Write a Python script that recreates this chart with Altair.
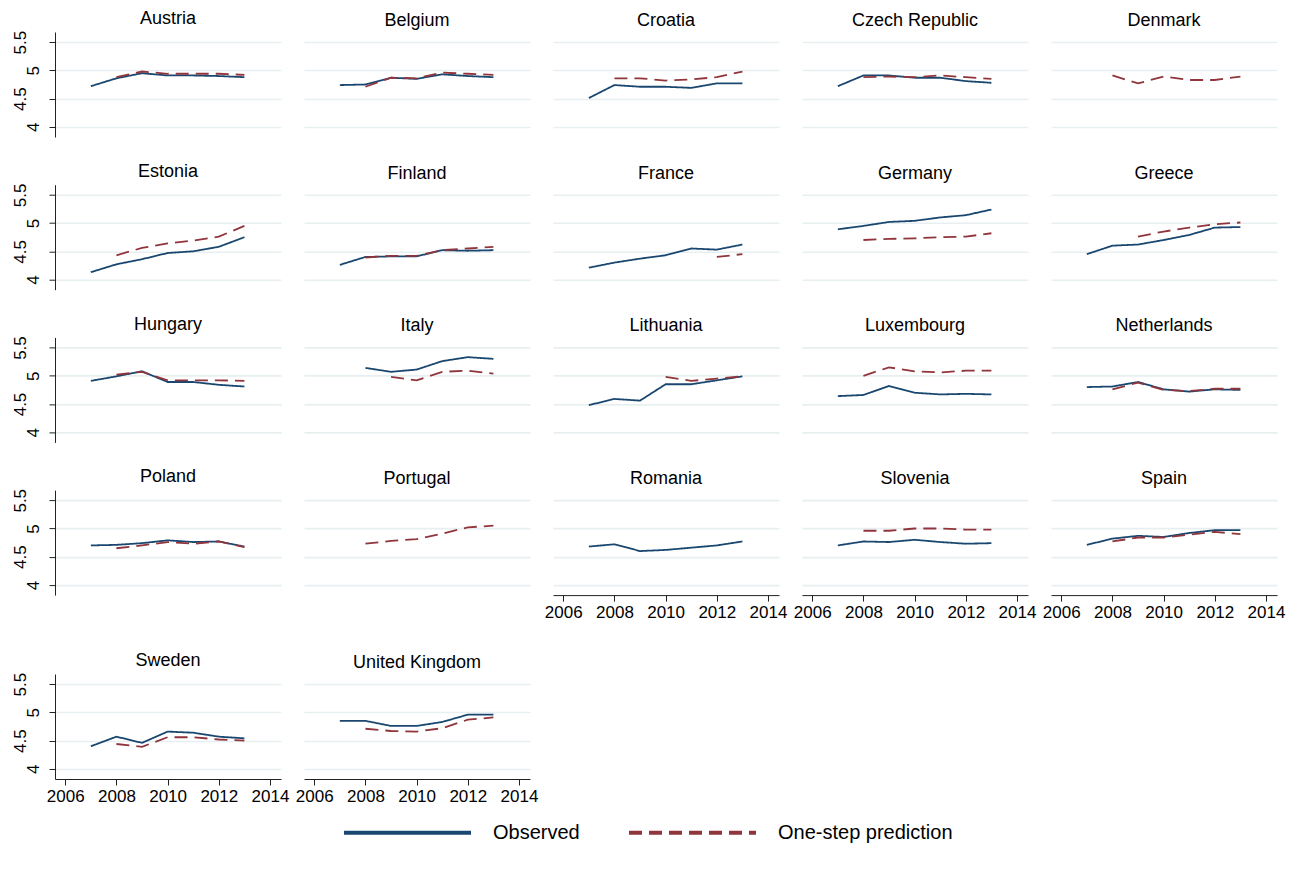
import altair as alt
import pandas as pd

N = None
years = [2007, 2008, 2009, 2010, 2011, 2012, 2013]
countries = ["Austria", "Belgium", "Croatia", "Czech Republic", "Denmark",
             "Estonia", "Finland", "France", "Germany", "Greece",
             "Hungary", "Italy", "Lithuania", "Luxembourg", "Netherlands",
             "Poland", "Portugal", "Romania", "Slovenia", "Spain",
             "Sweden", "United Kingdom"]
series_names = ["Observed", "One-step prediction"]
series_colors = ["#1a476f", "#90353b"]
x_ticks = [2006, 2008, 2010, 2012, 2014]
y_ticks = [4, 4.5, 5, 5.5]

# Observed values (per country, 2007..2013)
obs_austria = [4.72, 4.86, 4.95, 4.91, 4.91, 4.90, 4.88]
obs_belgium = [4.74, 4.75, 4.87, 4.85, 4.93, 4.90, 4.88]
obs_croatia = [4.51, 4.74, 4.71, 4.71, 4.69, 4.77, 4.77]
obs_czech = [4.72, 4.91, 4.91, 4.87, 4.87, 4.81, 4.78]
obs_denmark = [N, N, N, N, N, N, N]
obs_estonia = [4.13, 4.27, 4.36, 4.47, 4.50, 4.58, 4.75]
obs_finland = [4.26, 4.40, 4.41, 4.41, 4.52, 4.51, 4.52]
obs_france = [4.21, 4.30, 4.37, 4.43, 4.55, 4.53, 4.62]
obs_germany = [4.89, 4.95, 5.02, 5.04, 5.10, 5.14, 5.24]
obs_greece = [4.45, 4.60, 4.62, 4.70, 4.79, 4.92, 4.93]
obs_hungary = [4.91, 4.99, 5.08, 4.89, 4.89, 4.84, 4.81]
obs_italy = [N, 5.14, 5.07, 5.11, 5.26, 5.33, 5.30]
obs_lithuania = [4.48, 4.59, 4.56, 4.85, 4.85, 4.92, 4.99]
obs_luxembourg = [4.64, 4.66, 4.82, 4.70, 4.67, 4.68, 4.67]
obs_netherlands = [4.80, 4.81, 4.89, 4.76, 4.72, 4.76, 4.75]
obs_poland = [4.70, 4.71, 4.74, 4.79, 4.76, 4.77, 4.68]
obs_portugal = [N, N, N, N, N, N, N]
obs_romania = [4.68, 4.72, 4.60, 4.62, 4.66, 4.70, 4.77]
obs_slovenia = [4.70, 4.77, 4.76, 4.80, 4.76, 4.73, 4.74]
obs_spain = [4.71, 4.82, 4.87, 4.85, 4.92, 4.97, 4.97]
obs_sweden = [4.40, 4.57, 4.46, 4.66, 4.64, 4.57, 4.54]
obs_uk = [4.85, 4.85, 4.76, 4.76, 4.83, 4.96, 4.96]

# One-step predictions (per country, 2007..2013)
pred_austria = [N, 4.88, 4.98, 4.94, 4.94, 4.94, 4.92]
pred_belgium = [N, 4.71, 4.87, 4.86, 4.96, 4.94, 4.92]
pred_croatia = [N, 4.86, 4.86, 4.82, 4.84, 4.88, 4.98]
pred_czech = [N, 4.88, 4.89, 4.88, 4.91, 4.88, 4.85]
pred_denmark = [N, 4.91, 4.77, 4.89, 4.83, 4.83, 4.89]
pred_estonia = [N, 4.43, 4.56, 4.64, 4.69, 4.76, 4.95]
pred_finland = [N, 4.39, 4.42, 4.42, 4.52, 4.55, 4.58]
pred_france = [N, N, N, N, N, 4.40, 4.45]
pred_germany = [N, 4.70, 4.72, 4.73, 4.75, 4.76, 4.82]
pred_greece = [N, N, 4.76, 4.85, 4.92, 4.98, 5.01]
pred_hungary = [N, 5.02, 5.07, 4.92, 4.92, 4.92, 4.91]
pred_italy = [N, N, 4.98, 4.92, 5.07, 5.09, 5.04]
pred_lithuania = [N, N, N, 4.98, 4.91, 4.95, 4.99]
pred_luxembourg = [N, 5.00, 5.15, 5.08, 5.06, 5.09, 5.09]
pred_netherlands = [N, 4.76, 4.88, 4.75, 4.73, 4.77, 4.77]
pred_poland = [N, 4.65, 4.70, 4.76, 4.73, 4.77, 4.67]
pred_portugal = [N, 4.73, 4.78, 4.81, 4.91, 5.02, 5.05]
pred_romania = [N, N, N, N, N, N, N]
pred_slovenia = [N, 4.96, 4.96, 5.00, 5.00, 4.98, 4.98]
pred_spain = [N, 4.77, 4.84, 4.84, 4.89, 4.94, 4.90]
pred_sweden = [N, 4.44, 4.39, 4.56, 4.56, 4.52, 4.50]
pred_uk = [N, 4.71, 4.67, 4.66, 4.72, 4.87, 4.91]

observed_lists = [obs_austria, obs_belgium, obs_croatia, obs_czech, obs_denmark,
                  obs_estonia, obs_finland, obs_france, obs_germany, obs_greece,
                  obs_hungary, obs_italy, obs_lithuania, obs_luxembourg, obs_netherlands,
                  obs_poland, obs_portugal, obs_romania, obs_slovenia, obs_spain,
                  obs_sweden, obs_uk]
predicted_lists = [pred_austria, pred_belgium, pred_croatia, pred_czech, pred_denmark,
                   pred_estonia, pred_finland, pred_france, pred_germany, pred_greece,
                   pred_hungary, pred_italy, pred_lithuania, pred_luxembourg, pred_netherlands,
                   pred_poland, pred_portugal, pred_romania, pred_slovenia, pred_spain,
                   pred_sweden, pred_uk]

rows = []
for c, ob, pr in zip(countries, observed_lists, predicted_lists):
    for yr, v in zip(years, ob):
        if v is not None:
            rows.append({"country": c, "year": yr, "series": series_names[0], "value": v})
    for yr, v in zip(years, pr):
        if v is not None:
            rows.append({"country": c, "year": yr, "series": series_names[1], "value": v})
df = pd.DataFrame(rows)

FONT = "Liberation Sans"
PW, PH = 226, 105

legend = alt.Legend(
    title=None, orient="none", legendX=287, legendY=735, direction="horizontal",
    symbolType="stroke", symbolSize=16129, symbolStrokeWidth=4,
    labelFont=FONT, labelFontSize=20, labelColor="black", labelLimit=400,
    columnPadding=41, labelOffset=20, padding=0,
)

color_scale = alt.Scale(domain=series_names, range=series_colors)
dash_scale = alt.Scale(domain=series_names, range=[[1, 0], [13, 7]])
x_scale = alt.Scale(domain=[2005.6, 2014.43], nice=False, zero=False)
y_scale = alt.Scale(domain=[3.82, 5.68], nice=False, zero=False)


def panel(c, col, bottom):
    if bottom:
        x_axis = alt.Axis(values=x_ticks, format="d", grid=False, domain=True,
                          domainColor="#222", ticks=True, tickColor="#222", tickSize=6,
                          labelPadding=3, labelFlush=False, labelOverlap=False, title=None)
    else:
        x_axis = None
    if col == 0:
        y_axis = alt.Axis(values=y_ticks, format="~g", grid=True, domain=True,
                          domainColor="#222", ticks=True, tickColor="#222", tickSize=6,
                          labelAngle=270, labelAlign="center", labelBaseline="alphabetic",
                          labelPadding={"condition": {"test": "datum.value % 1 != 0", "value": 24}, "value": 11},
                          labelOverlap=False, labelFlush=False, title=None)
    else:
        y_axis = alt.Axis(values=y_ticks, grid=True, domain=False, ticks=False,
                          labels=False, title=None)
    return alt.Chart(df).transform_filter(alt.datum.country == c).mark_line(
        strokeWidth=1.8
    ).encode(
        x=alt.X("year:Q", scale=x_scale, axis=x_axis),
        y=alt.Y("value:Q", scale=y_scale, axis=y_axis),
        color=alt.Color("series:N", scale=color_scale, legend=legend),
        strokeDash=alt.StrokeDash("series:N", scale=dash_scale, legend=legend),
    ).properties(
        width=PW, height=PH,
        title=alt.TitleParams(c, font=FONT, fontSize=18, fontWeight="normal",
                              color="black", offset=2, frame="group"),
    )


panels = []
for idx, c in enumerate(countries):
    col = idx % 5
    bottom = (idx + 5) >= len(countries)
    panels.append(panel(c, col, bottom))

top_block = alt.concat(*panels[:20], columns=5, spacing={"row": 47.7, "column": 23},
                       bounds="flush")
bottom_row = alt.hconcat(*panels[20:], spacing=23, bounds="flush")

chart = alt.vconcat(top_block, bottom_row, spacing=31).properties(
    padding={"left": 10, "top": 10, "right": 5, "bottom": 5},
    background="white",
).configure_view(
    stroke="transparent", strokeWidth=0
).configure_axis(
    labelFont=FONT, labelFontSize=17, labelColor="black",
    gridColor="#e8eff1", gridWidth=1.6,
)

chart.save("out.html", embed_options={"renderer": "svg", "actions": False})
